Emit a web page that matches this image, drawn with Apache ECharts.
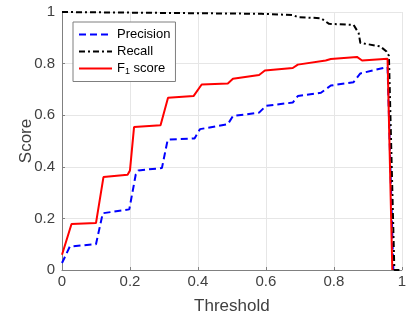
<!DOCTYPE html>
<html>
<head>
<meta charset="utf-8">
<script src="https://cdn.jsdelivr.net/npm/echarts@6/dist/echarts.min.js"></script>
<style>
  html, body { margin: 0; padding: 0; background: #fff; }
  #main { width: 409px; height: 320px; }
</style>
</head>
<body>
<div id="main"></div>
<script>
// values
const precisionX = [0, 0.023, 0.1, 0.12, 0.198, 0.217, 0.225, 0.294, 0.311, 0.39, 0.406, 0.488, 0.503, 0.58, 0.6, 0.679, 0.694, 0.762, 0.791, 0.858, 0.878, 0.958, 0.975]
const precisionY = [0.027, 0.091, 0.1, 0.22, 0.235, 0.37, 0.386, 0.395, 0.505, 0.51, 0.546, 0.565, 0.597, 0.61, 0.636, 0.649, 0.674, 0.687, 0.715, 0.728, 0.762, 0.787, 0]

const recallX = [0, 0.005, 0.587, 0.679, 0.694, 0.762, 0.786, 0.858, 0.873, 0.878, 0.936, 0.955, 0.962, 0.978, 1]
const recallY = [1, 0.996, 0.993, 0.988, 0.98, 0.976, 0.954, 0.95, 0.918, 0.88, 0.867, 0.847, 0.83, 0, 0]

const f1X = [0, 0.028, 0.1, 0.122, 0.193, 0.2, 0.212, 0.29, 0.312, 0.387, 0.411, 0.488, 0.503, 0.58, 0.597, 0.679, 0.694, 0.776, 0.791, 0.868, 0.883, 0.958, 0.972]
const f1Y = [0.059, 0.178, 0.182, 0.36, 0.369, 0.386, 0.554, 0.561, 0.668, 0.674, 0.719, 0.723, 0.741, 0.756, 0.773, 0.783, 0.796, 0.812, 0.818, 0.826, 0.812, 0.819, 0]

const seriesNames = ['Precision', 'Recall', 'F1 score']
const tickLabels = ['0', '0.2', '0.4', '0.6', '0.8', '1']

const font = 'Liberation Sans, Arial, sans-serif'
const textGrey = '#404040'

function pairs(xs, ys) {
    return xs.map((x, i) => [x, ys[i]])
}

function axis(name, nameGap, labelMargin) {
    return {
        type: 'value',
        min: 0,
        max: 1,
        interval: 0.2,
        name: name,
        nameLocation: 'middle',
        nameGap: nameGap,
        nameMoveOverlap: false,
        nameTextStyle: {fontFamily: font, fontSize: 17, color: textGrey},
        axisLine: {show: true, lineStyle: {color: '#808080', width: 1}},
        axisTick: {show: true, inside: true, length: 3, lineStyle: {color: '#808080'}},
        axisLabel: {
            fontFamily: font, fontSize: 15, color: textGrey, margin: labelMargin,
            formatter: v => tickLabels[Math.round(v * 5)]
        },
        splitLine: {show: true, lineStyle: {color: '#e6e6e6', width: 1}}
    }
}

const chart = echarts.init(document.getElementById('main'), null, {renderer: 'canvas'})
chart.setOption({
    animation: false,
    backgroundColor: '#fff',
    grid: {left: 62, right: 3, top: 12, bottom: 48, containLabel: false},
    xAxis: axis('Threshold', 28, 4),
    yAxis: axis('Score', 27, 7),
    legend: {
        orient: 'vertical',
        left: 73,
        top: 22,
        padding: [6, 5, 5, 5],
        itemGap: 4,
        itemWidth: 33,
        itemHeight: 14,
        backgroundColor: '#fff',
        borderColor: '#7f7f7f',
        borderWidth: 1,
        borderRadius: 0,
        itemStyle: {opacity: 0},
        data: seriesNames,
        formatter: name => name === 'F1 score' ? '{m|F}{s|1}{m| score}' : '{m|' + name + '}',
        textStyle: {
            fontFamily: font,
            rich: {
                m: {fontFamily: font, fontSize: 13, color: '#000', lineHeight: 16},
                s: {fontFamily: font, fontSize: 9, color: '#000', lineHeight: 9, verticalAlign: 'bottom'}
            }
        }
    },
    series: [
        {
            name: 'Precision', type: 'line', symbol: 'none', data: pairs(precisionX, precisionY),
            lineStyle: {color: '#0000ff', width: 2, type: [7, 4]}, itemStyle: {color: '#0000ff'}
        },
        {
            name: 'Recall', type: 'line', symbol: 'none', data: pairs(recallX, recallY),
            lineStyle: {color: '#000', width: 2, type: [6, 3, 2, 3]}, itemStyle: {color: '#000'}
        },
        {
            name: 'F1 score', type: 'line', symbol: 'none', data: pairs(f1X, f1Y),
            lineStyle: {color: '#ff0000', width: 2}, itemStyle: {color: '#ff0000'}
        }
    ]
})
</script>
</body>
</html>
